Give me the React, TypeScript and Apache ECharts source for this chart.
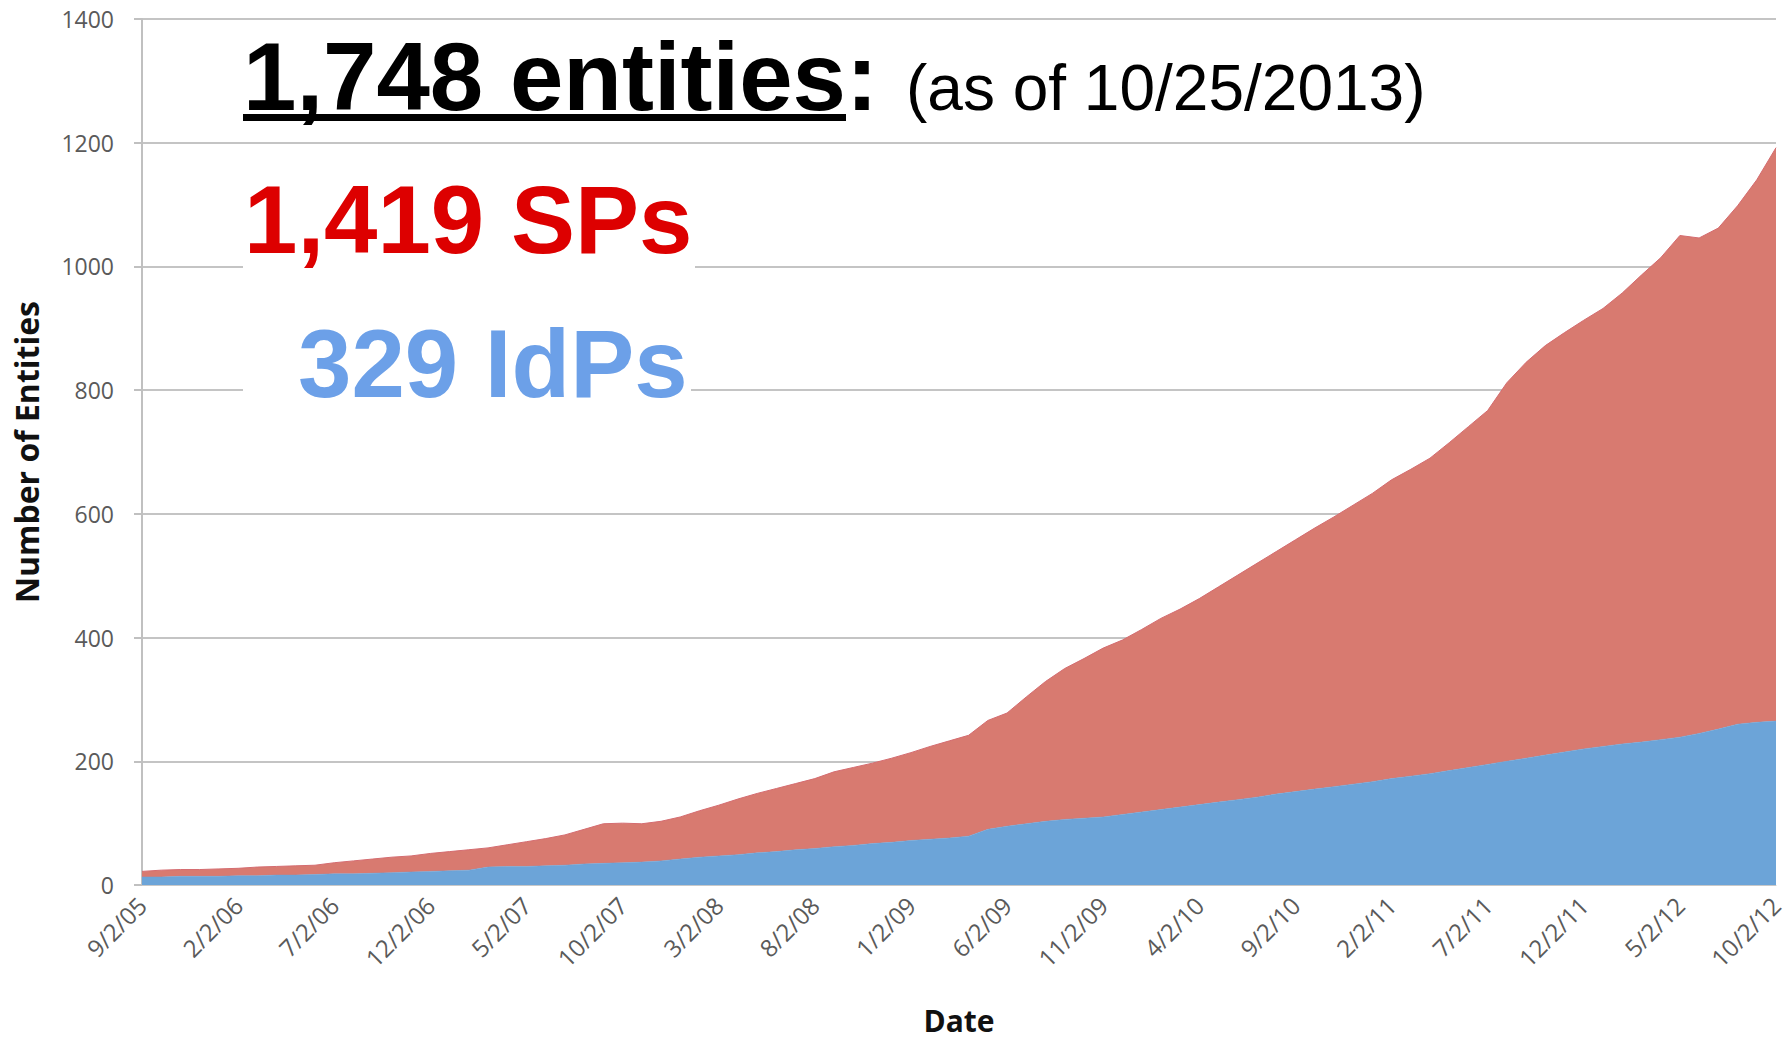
import React, { useEffect, useRef } from "react";
import * as echarts from "echarts";

const months = ["9/2/05","10/2/05","11/2/05","12/2/05","1/2/06","2/2/06","3/2/06","4/2/06","5/2/06","6/2/06","7/2/06","8/2/06","9/2/06","10/2/06","11/2/06","12/2/06","1/2/07","2/2/07","3/2/07","4/2/07","5/2/07","6/2/07","7/2/07","8/2/07","9/2/07","10/2/07","11/2/07","12/2/07","1/2/08","2/2/08","3/2/08","4/2/08","5/2/08","6/2/08","7/2/08","8/2/08","9/2/08","10/2/08","11/2/08","12/2/08","1/2/09","2/2/09","3/2/09","4/2/09","5/2/09","6/2/09","7/2/09","8/2/09","9/2/09","10/2/09","11/2/09","12/2/09","1/2/10","2/2/10","3/2/10","4/2/10","5/2/10","6/2/10","7/2/10","8/2/10","9/2/10","10/2/10","11/2/10","12/2/10","1/2/11","2/2/11","3/2/11","4/2/11","5/2/11","6/2/11","7/2/11","8/2/11","9/2/11","10/2/11","11/2/11","12/2/11","1/2/12","2/2/12","3/2/12","4/2/12","5/2/12","6/2/12","7/2/12","8/2/12","9/2/12","10/2/12"];

const idps = [13,13,14,14,14,15,15,16,16,17,18,18,19,20,21,22,23,24,29,30,30,31,32,34,35,36,37,39,42,45,47,49,52,54,57,59,62,64,67,69,72,74,76,79,90,95,99,103,106,108,110,114,118,122,126,130,134,138,142,147,151,155,159,163,167,172,176,180,185,190,195,200,205,210,215,220,224,228,231,235,239,245,252,260,263,265];

const sps = [9,11,11,11,12,12,14,14,15,15,18,21,23,25,26,29,31,33,31,35,40,44,49,56,64,64,62,64,68,75,82,90,96,102,107,113,121,126,130,136,142,150,157,163,176,183,205,226,244,258,273,282,295,309,320,333,348,363,378,392,407,422,436,451,466,483,496,510,530,551,572,612,640,662,678,693,708,729,755,779,811,801,810,838,877,927];

const yMin = 0;
const yMax = 1400;
const yStep = 200;

const headline = "1,748 entities";
const asOf = "(as of 10/25/2013)";
const spText = "1,419 SPs";
const idpText = "329 IdPs";

export default function App() {
  const ref = useRef<HTMLDivElement>(null);
  useEffect(() => {
    if (!ref.current) return;
    const chart = echarts.init(ref.current, null, { renderer: "svg" });
    const axisFont = "Open Sans";
    const bigFont = "Liberation Sans";
    const bigSize = 96;
    const headX = 243;
    let headW = 601;
    const cv = document.createElement("canvas").getContext("2d");
    if (cv) {
      cv.font = `bold ${bigSize}px "${bigFont}"`;
      headW = cv.measureText(headline).width;
    }
    chart.setOption({
      animation: false,
      backgroundColor: "#ffffff",
      grid: { left: 142, right: 11, top: 19, bottom: 159, containLabel: false, outerBoundsMode: "none" },
      xAxis: {
        type: "category",
        data: months,
        boundaryGap: false,
        name: "Date",
        nameLocation: "middle",
        nameGap: 120,
        nameTextStyle: { fontFamily: axisFont, fontWeight: "bold", fontSize: 30, lineHeight: 30, color: "#111" },
        axisLine: { show: true, lineStyle: { color: "#c8c8c8", width: 1 } },
        axisTick: { show: false },
        axisLabel: {
          interval: 4,
          rotate: 45,
          margin: 16,
          fontFamily: axisFont,
          fontSize: 24,
          color: "#5a5a5a",
        },
        splitLine: { show: false },
      },
      yAxis: {
        type: "value",
        min: yMin,
        max: yMax,
        interval: yStep,
        name: "Number of Entities",
        nameLocation: "middle",
        nameGap: 100,
        nameTextStyle: { fontFamily: axisFont, fontWeight: "bold", fontSize: 32, color: "#111" },
        axisLine: { show: true, lineStyle: { color: "#c0c0c0", width: 2 } },
        axisTick: { show: true, inside: false, length: 8, lineStyle: { color: "#c0c0c0", width: 2 } },
        axisLabel: {
          margin: 28,
          fontFamily: axisFont,
          fontSize: 23,
          color: "#5a5a5a",
          formatter: (v: number) => String(v),
        },
        splitLine: { show: true, lineStyle: { color: "#c4c4c4", width: 2 } },
      },
      series: [
        {
          name: "IdPs",
          type: "line",
          stack: "total",
          data: idps,
          showSymbol: false,
          symbol: "none",
          lineStyle: { width: 0.5, color: "#6aa4d8" },
          areaStyle: { color: "#6ca4d8", opacity: 1 },
          z: 3,
        },
        {
          name: "SPs",
          type: "line",
          stack: "total",
          data: sps,
          showSymbol: false,
          symbol: "none",
          lineStyle: { width: 1, color: "#d46c70" },
          areaStyle: { color: "#d87a70", opacity: 1 },
          z: 2,
        },
      ],
      graphic: [
        { type: "rect", z: 100, shape: { x: 243, y: 167, width: 452, height: 110 }, style: { fill: "#ffffff" } },
        { type: "rect", z: 100, shape: { x: 243, y: 290, width: 448, height: 112 }, style: { fill: "#ffffff" } },
        {
          type: "text", z: 101, x: headX, y: 76,
          style: { text: headline, fontFamily: bigFont, fontWeight: "bold", fontSize: bigSize, fill: "#000", textAlign: "left", verticalAlign: "middle" },
        },
        {
          type: "text", z: 101, x: headX + headW, y: 76,
          style: { text: ":", fontFamily: bigFont, fontWeight: "bold", fontSize: bigSize, fill: "#000", textAlign: "left", verticalAlign: "middle" },
        },
        { type: "rect", z: 101, shape: { x: headX, y: 114, width: headW, height: 7 }, style: { fill: "#000" } },
        {
          type: "text", z: 101, x: 906, y: 88,
          style: { text: asOf, fontFamily: bigFont, fontSize: 64, fill: "#000", textAlign: "left", verticalAlign: "middle" },
        },
        {
          type: "text", z: 101, x: 244, y: 219,
          style: { text: spText, fontFamily: bigFont, fontWeight: "bold", fontSize: bigSize, fill: "#dd0000", textAlign: "left", verticalAlign: "middle" },
        },
        {
          type: "text", z: 101, x: 298, y: 363,
          style: { text: idpText, fontFamily: bigFont, fontWeight: "bold", fontSize: bigSize, fill: "#6ca0e8", textAlign: "left", verticalAlign: "middle" },
        },
      ],
    });
    return () => chart.dispose();
  }, []);
  return (
    <div
      ref={ref}
      style={{ position: "fixed", left: 0, top: 0, width: 1787, height: 1044, background: "#fff" }}
    />
  );
}
